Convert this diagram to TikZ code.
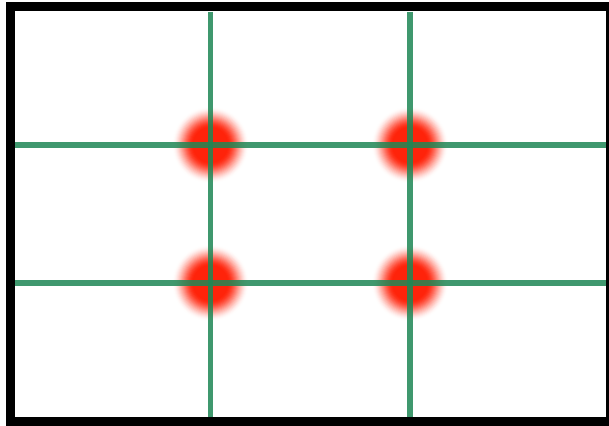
\documentclass[tikz,border=0pt]{standalone}
\definecolor{gridgreen}{RGB}{30,135,85}
\definecolor{glowred}{RGB}{255,35,10}
\tikzset{
  gridline/.style={draw=gridgreen, draw opacity=0.85, line width=5.5pt},
  frameline/.style={draw=black, line width=9pt}
}
\begin{document}
\begin{tikzpicture}[x=1pt,y=-1pt]
  \useasboundingbox (0,0) rectangle (609,425);
  \clip (0,0) rectangle (609,425);
  \fill[white] (0,0) rectangle (609,425);
  % glow spots at intersections (discrete radial gradient)
  \foreach \r in {39,38,...,1}{
    \pgfmathsetmacro{\t}{min(1,max(0,(\r-17)/22))}
    \pgfmathsetmacro{\pct}{100*(1-\t*\t*(3-2*\t))}
    \foreach \px/\py in {210.5/145, 410/145, 210.5/283, 410/283}{
      \fill[glowred!\pct!white] (\px,\py) circle (\r);
    }
  }
  % grid lines
  \draw[gridline] (210.5,12) -- (210.5,417);
  \draw[gridline] (410,12) -- (410,417);
  \draw[gridline] (15,145) -- (606,145);
  \draw[gridline] (15,283) -- (606,283);
  % frame
  \draw[frameline] (10.5,7) rectangle (610.5,421);
\end{tikzpicture}
\end{document}
